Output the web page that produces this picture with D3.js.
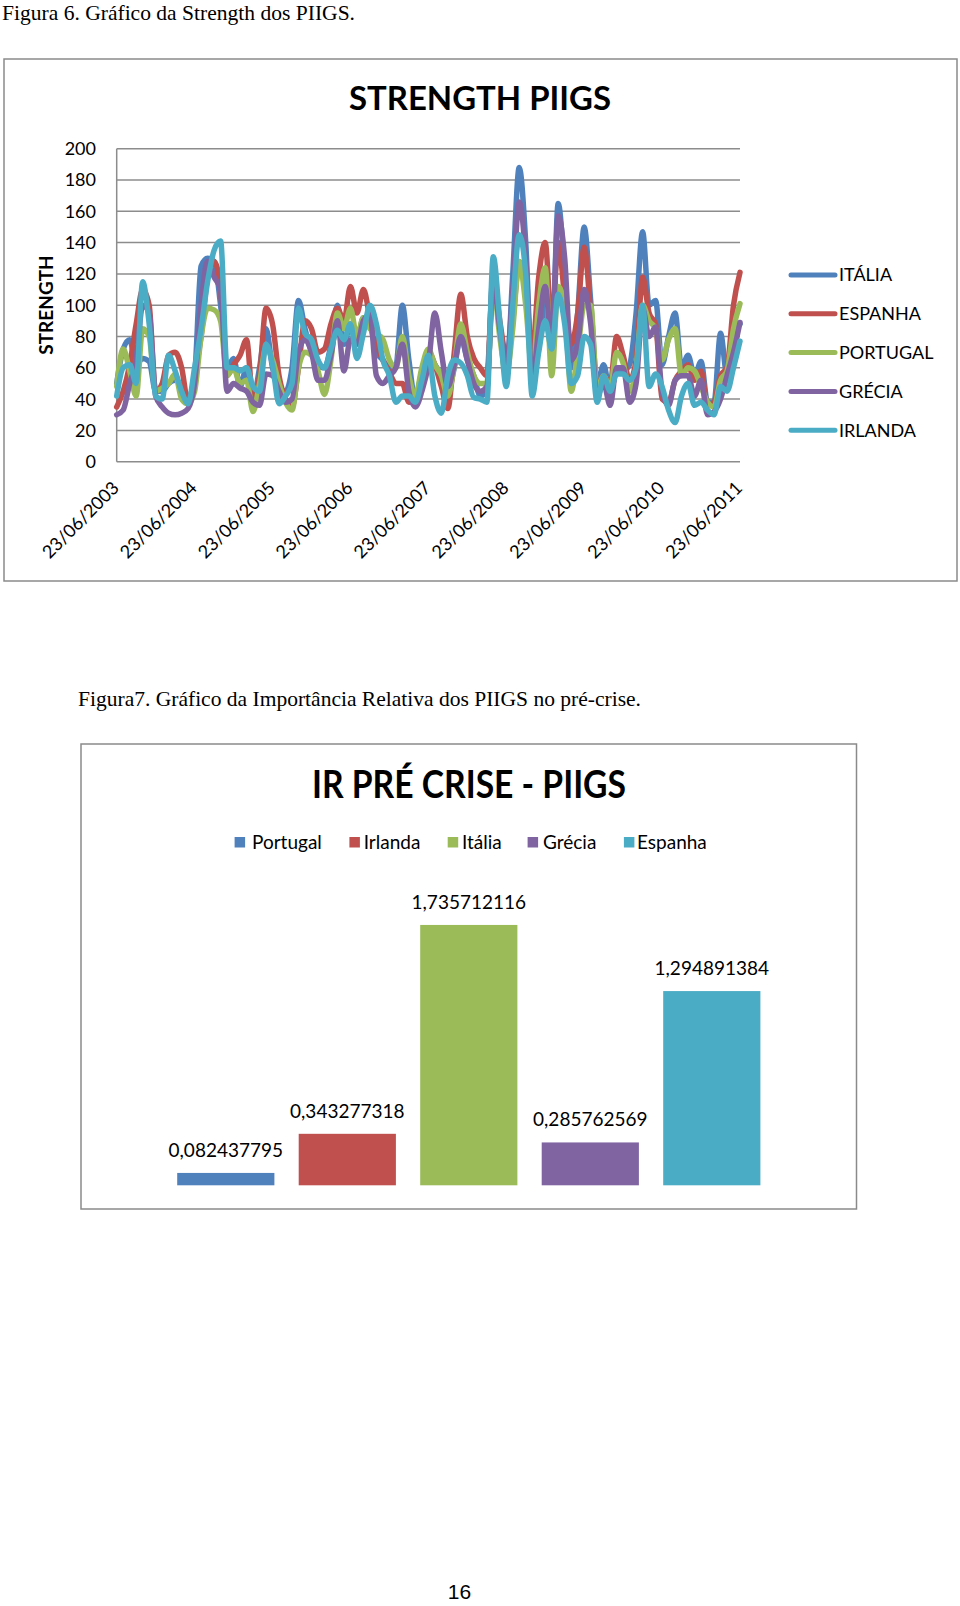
<!DOCTYPE html>
<html><head><meta charset="utf-8">
<script src="https://cdn.jsdelivr.net/npm/d3@7"></script>
<style>body{margin:0;background:#fff} svg{display:block}</style>
</head><body>
<svg id="page" width="960" height="1606"></svg>
<script>
// ---------- Chart 1 data: STRENGTH PIIGS (monthly readings, 23/06/2003 .. 23/06/2011) ----------
const xTickIndex = [0, 12, 24, 36, 48, 60, 72, 84, 96];
const xTickLabels = ["23/06/2003","23/06/2004","23/06/2005","23/06/2006","23/06/2007","23/06/2008","23/06/2009","23/06/2010","23/06/2011"];
const yTicks = [0, 20, 40, 60, 80, 100, 120, 140, 160, 180, 200];

const italia = [50,72,78,62,66,64,45,45,50,52,48,38,
  55,125,130,128,100,60,66,48,60,40,60,85,
  60,48,45,60,103,85,70,62,60,75,100,75,
  88,78,92,88,70,65,60,62,100,65,40,58,
  68,62,55,45,60,80,65,55,42,45,122,85,
  55,120,188,140,55,80,100,70,165,120,60,95,
  150,103,50,62,44,58,58,62,95,147,100,103,
  62,80,95,60,68,55,64,38,38,82,55,80,
  88];
const espanha = [35,45,62,88,110,100,45,50,68,70,60,38,
  55,80,118,128,110,55,62,68,78,40,55,98,
  88,55,40,35,60,90,85,70,72,88,98,90,
  112,95,110,92,75,65,57,50,50,38,40,55,
  70,62,48,34,70,107,80,66,60,55,118,90,
  68,90,128,110,70,118,140,85,140,105,75,95,
  137,95,48,55,50,80,68,52,65,118,95,88,
  40,38,52,58,62,52,58,36,38,55,60,100,
  121];
const portugal = [48,72,58,42,85,80,45,47,50,56,40,37,
  45,80,98,97,90,55,60,50,52,32,50,73,
  65,50,38,33,60,70,68,58,43,65,95,85,
  98,80,92,85,82,78,65,60,80,55,42,60,
  72,62,55,42,62,88,70,55,50,50,112,80,
  55,85,128,100,58,100,124,55,112,98,45,70,
  100,100,45,55,47,70,63,45,60,100,90,85,
  65,78,85,55,60,58,48,38,35,52,58,85,
  101];
const grecia = [30,33,50,65,100,95,42,35,31,30,31,34,
  50,100,128,118,110,45,50,47,45,38,36,56,
  55,45,38,40,70,78,70,52,52,68,90,58,
  78,75,90,94,55,50,55,60,75,45,35,45,
  62,95,70,48,62,80,65,50,45,48,115,85,
  60,110,166,130,52,85,112,75,157,130,65,75,
  110,88,42,50,36,60,60,38,50,98,80,86,
  45,36,52,55,55,42,52,30,32,40,55,70,
  89];
const irlanda = [42,60,62,50,115,88,42,40,68,58,45,37,
  60,85,115,135,141,60,60,58,60,48,45,75,
  62,37,42,50,98,82,78,65,60,72,84,78,
  88,66,82,100,88,65,55,38,42,42,38,52,
  68,42,31,55,65,63,55,41,40,38,131,90,
  48,100,145,120,42,70,90,72,107,88,50,55,
  80,75,38,55,45,56,56,52,60,100,48,56,
  48,33,25,42,50,36,38,33,30,48,45,60,
  77];
const lineSeriesNames = ["ITÁLIA","ESPANHA","PORTUGAL","GRÉCIA","IRLANDA"];
const lineSeriesValues = [italia, espanha, portugal, grecia, irlanda];
const lineColors = ["#4F81BD","#C0504D","#9BBB59","#8064A2","#4BACC6"];

// ---------- Chart 2 data: IR PRÉ CRISE - PIIGS ----------
const barCategories = ["Portugal","Irlanda","Itália","Grécia","Espanha"];
const barValues = [0.082437795, 0.343277318, 1.735712116, 0.285762569, 1.294891384];
const barLabels = ["0,082437795","0,343277318","1,735712116","0,285762569","1,294891384"];
const barColors = ["#4F81BD","#C0504D","#9BBB59","#8064A2","#4BACC6"];

const SANS = "Lato, 'Open Sans', sans-serif";
const SERIF = "'Liberation Serif', 'Times New Roman', serif";
const svg = d3.select("#page");

// Caption 1
svg.append("text").attr("x", 2).attr("y", 19.5)
  .attr("font-family", SERIF).attr("font-size", 21)
  .attr("textLength", 353).attr("lengthAdjust", "spacingAndGlyphs")
  .text("Figura 6. Gráfico da Strength dos PIIGS.");

// Chart 1 frame
svg.append("rect").attr("x", 4).attr("y", 59).attr("width", 953).attr("height", 522)
  .attr("fill", "#fff").attr("stroke", "#8a8a8a").attr("stroke-width", 1.5);

svg.append("text").attr("x", 480).attr("y", 110).attr("text-anchor", "middle")
  .attr("font-family", SANS).attr("font-weight", "bold").attr("font-size", 32)
  .attr("textLength", 262).attr("lengthAdjust", "spacingAndGlyphs")
  .text("STRENGTH PIIGS");

const x = d3.scaleLinear().domain([0, 96]).range([116.7, 740]);
const y = d3.scaleLinear().domain([0, 200]).range([461.7, 148.7]);

const g1 = svg.append("g");
// gridlines
g1.selectAll("line.grid").data(yTicks).join("line")
  .attr("x1", x(0)).attr("x2", x(96))
  .attr("y1", d => y(d)).attr("y2", d => y(d))
  .attr("stroke", "#8c8c8c").attr("stroke-width", 1.5);
g1.append("line").attr("x1", x(0)).attr("x2", x(0)).attr("y1", y(0)).attr("y2", y(200))
  .attr("stroke", "#8c8c8c").attr("stroke-width", 1.5);

// y labels
g1.selectAll("text.ylab").data(yTicks).join("text")
  .attr("x", 96).attr("y", d => y(d)).attr("dy", "0.36em")
  .attr("text-anchor", "end").attr("font-family", SANS).attr("font-size", 18)
  .text(d => d);

// y title
svg.append("text").attr("transform", "translate(52.5,305) rotate(-90)")
  .attr("text-anchor", "middle").attr("font-family", SANS).attr("font-weight", "bold")
  .attr("font-size", 19).text("STRENGTH");

// x labels
g1.selectAll("text.xlab").data(xTickIndex).join("text")
  .attr("transform", d => `translate(${x(d) + 3.5},489) rotate(-45)`)
  .attr("text-anchor", "end").attr("font-family", SANS).attr("font-size", 18)
  .text((d, i) => xTickLabels[i]);

// lines
const lineGen = d3.line().x((d, i) => x(i)).y(d => y(d)).curve(d3.curveMonotoneX);
g1.selectAll("path.series").data(lineSeriesValues).join("path")
  .attr("d", d => lineGen(d)).attr("fill", "none")
  .attr("stroke", (d, i) => lineColors[i]).attr("stroke-width", 5.5)
  .attr("stroke-linejoin", "round").attr("stroke-linecap", "round");

// legend 1
const leg1 = svg.append("g");
lineSeriesNames.forEach((n, i) => {
  const ly = 275 + i * 38.8;
  leg1.append("line").attr("x1", 791).attr("x2", 835).attr("y1", ly).attr("y2", ly)
    .attr("stroke", lineColors[i]).attr("stroke-width", 5).attr("stroke-linecap", "round");
  leg1.append("text").attr("x", 839).attr("y", ly).attr("dy", "0.36em")
    .attr("font-family", SANS).attr("font-size", 18).text(n);
});

// Caption 2
svg.append("text").attr("x", 78).attr("y", 706)
  .attr("font-family", SERIF).attr("font-size", 22)
  .attr("textLength", 563).attr("lengthAdjust", "spacingAndGlyphs")
  .text("Figura7. Gráfico da Importância Relativa dos PIIGS no pré-crise.");

// Chart 2 frame
svg.append("rect").attr("x", 81).attr("y", 744).attr("width", 775.5).attr("height", 465)
  .attr("fill", "#fff").attr("stroke", "#8a8a8a").attr("stroke-width", 1.5);

svg.append("text").attr("x", 469).attr("y", 798).attr("text-anchor", "middle")
  .attr("font-family", SANS).attr("font-weight", "bold").attr("font-size", 38)
  .attr("textLength", 314).attr("lengthAdjust", "spacingAndGlyphs")
  .text("IR PRÉ CRISE - PIIGS");

// legend 2
const leg2Sq = [234.6, 349.4, 447.7, 527.6, 623.9];
const leg2Tx = [252, 363.7, 462, 543, 637];
barCategories.forEach((c, i) => {
  svg.append("rect").attr("x", leg2Sq[i]).attr("y", 837).attr("width", 10.5).attr("height", 10.5)
    .attr("fill", barColors[i]);
  svg.append("text").attr("x", leg2Tx[i]).attr("y", 849)
    .attr("font-family", SANS).attr("font-size", 19).text(c);
});

const xb = d3.scaleBand().domain(barCategories).range([165.05, 772.55]).paddingInner(0.2).paddingOuter(0.1);
const yb = d3.scaleLinear().domain([0, 2]).range([1185.3, 885.3]);

svg.selectAll("rect.bar").data(barValues).join("rect")
  .attr("x", (d, i) => xb(barCategories[i])).attr("width", xb.bandwidth())
  .attr("y", d => yb(d)).attr("height", d => yb(0) - yb(d))
  .attr("fill", (d, i) => barColors[i]);

svg.selectAll("text.blab").data(barValues).join("text")
  .attr("x", (d, i) => xb(barCategories[i]) + xb.bandwidth() / 2)
  .attr("y", d => yb(d) - 16).attr("text-anchor", "middle")
  .attr("font-family", SANS).attr("font-size", 19)
  .text((d, i) => barLabels[i]);

// page number
svg.append("text").attr("x", 459.5).attr("y", 1599).attr("text-anchor", "middle")
  .attr("font-family", "'Liberation Sans', Arial, sans-serif").attr("font-size", 21).text("16");
</script>
</body></html>
